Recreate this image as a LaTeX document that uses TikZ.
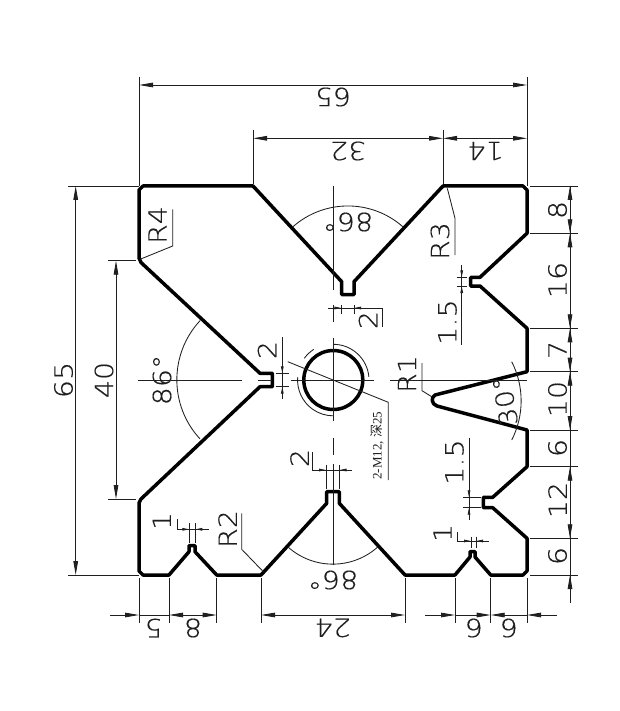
\documentclass[tikz,border=0pt]{standalone}
\usepackage{fontspec}
\usetikzlibrary{arrows.meta}
\newfontfamily\cadfont[FakeStretch=1.14,FakeBold=0.35]{DejaVu Sans ExtraLight}
\newfontfamily\labfont{Liberation Serif}
\newfontfamily\cjkfont{Noto Sans CJK SC}
\definecolor{ink}{gray}{0.12}
\tikzset{
  x=1pt,y=-1pt,
  outline/.style={line width=3.5pt,draw=black,line join=round},
  thinline/.style={line width=0.85pt,draw=ink},
  dimline/.style={thinline,>={Triangle[length=14pt,width=4.6pt]}},
  smalldim/.style={thinline,>={Triangle[length=7pt,width=2.6pt]}},
  lab/.style={font=\cadfont\fontsize{25}{25}\selectfont,text=ink,inner sep=0pt,anchor=center},
  labv/.style={lab,rotate=90},
  labd/.style={lab,rotate=180},
}
\begin{document}
\begin{tikzpicture}
\useasboundingbox (0,0) rectangle (619,711);
% outline
\draw[outline] (143,186) -- (253,186) -- (341.7,281.7) -- (341.7,294.5) -- (354,294.5) -- (354,281.7)
 -- (443,186) -- (523,186) -- (527,190) -- (527,233.3) -- (480,277.3) -- (470.7,277.3) -- (470.7,286) -- (480,286)
 -- (527,328.3) -- (527,371.7) -- (435,395) .. controls (431,397) and (431,404) .. (437,406) -- (527,430)
 -- (527,466.7) -- (492.7,497.3) -- (483.3,497.3) -- (483.3,507.7) -- (492.7,507.7) -- (527,538.3)
 -- (527,571) -- (523,575) -- (490.7,575) -- (475,557) -- (475,551.7) -- (470,551.7) -- (470,557) -- (455,575)
 -- (405,575) -- (339.3,503.3) -- (339.3,491.7) -- (326.7,491.7) -- (326.7,503.3) -- (261,575)
 -- (216.7,575) -- (195,551.7) -- (195,545.5) -- (189,545.5) -- (189,551.7) -- (169,575)
 -- (143,575) -- (139,571) -- (139,503) -- (141,499) -- (260,386.7) -- (272.3,386.7) -- (272.3,373.3) -- (260,373.3)
 -- (141,262.5) -- (139,258) -- (139,190) -- cycle;
\draw[line width=3.5pt] (333.3,380) circle[radius=29.5];
% thread arcs
\draw[thinline] (333.3,344.3) arc[start angle=-90,end angle=-5,radius=35.7];
\draw[thinline] (297.7,377) arc[start angle=185,end angle=90,radius=35.7];
\draw[thinline] (304.3,358.3) arc[start angle=-144,end angle=-123,radius=35.7];
% centre lines
\draw[thinline] (138,380) -- (241.7,380);
\draw[thinline] (258,380) -- (272,380);
\draw[thinline] (290.7,380) -- (374.3,380);
\draw[thinline] (390,380) -- (527,380);
\draw[thinline] (333,186) -- (333,290);
\draw[thinline] (333,305) -- (333,322);
\draw[thinline] (333,338) -- (333,421);
\draw[thinline] (333,438) -- (333,455);
\draw[thinline] (333,464) -- (333,565);
% angle arcs
\draw[thinline] (293,226.7) arc[start angle=228.6,end angle=311.4,radius=83];
\draw[thinline] (288,547) arc[start angle=131.8,end angle=48.2,radius=67.3];
\draw[thinline] (200,320.7) arc[start angle=222.8,end angle=137.2,radius=87];
\draw[thinline] (511.7,361.7) arc[start angle=-27.1,end angle=27.1,radius=86];
% top dims
\draw[thinline] (139,77) -- (139,186);
\draw[thinline] (527,77) -- (527,186);
\draw[thinline] (253,130) -- (253,184);
\draw[thinline] (443,130) -- (443,184);
\draw[dimline,<->] (139,85) -- (527,85);
\draw[dimline,<->] (253,138.3) -- (443,138.3);
\draw[dimline,<->] (443,138.3) -- (527,138.3);
\node[labd] (t65) at (333,97) {65};
\node[labd] (t32) at (348,151) {32};
\node[labd] (t14) at (485.5,151) {14};
% left dims
\draw[thinline] (68,186) -- (139,186);
\draw[thinline] (68,575) -- (139,575);
\draw[thinline] (108,260.7) -- (136,260.7);
\draw[thinline] (108,499) -- (136,499);
\draw[dimline,<->] (75.7,186) -- (75.7,575);
\draw[dimline,<->] (116,260.7) -- (116,499);
\node[labv] (l65) at (63.5,380) {65};
\node[labv] (l40) at (104,380) {40};
% right dims
\foreach \yy in {186,233.3,328.3,371.7,430,466.7,538.3,575}
  \draw[thinline] (530,\yy) -- (578,\yy);
\draw[thinline] (570,186) -- (570,603);
\draw[dimline,<->] (570,186) -- (570,233.3);
\draw[dimline,<->] (570,233.3) -- (570,328.3);
\draw[dimline,<->] (570,328.3) -- (570,371.7);
\draw[dimline,<->] (570,371.7) -- (570,430);
\draw[dimline,<->] (570,466.7) -- (570,538.3);
\draw[dimline,<-] (570,575) -- (570,603);
\node[labv] (r8) at (557.5,210) {8};
\node[labv] (r16) at (557.5,280) {16};
\node[labv] (r7) at (557.5,350) {7};
\node[labv] (r10) at (557.5,399) {10};
\node[labv] (r6a) at (557.5,448) {6};
\node[labv] (r12) at (557.5,500) {12};
\node[labv] (r6b) at (557.5,556) {6};
% bottom dims
\foreach \xx in {139,169,216.7,261,405,455,490.7,527}
  \draw[thinline] (\xx,578) -- (\xx,622.5);
\draw[dimline,<-] (139,615) -- (110,615);
\draw[thinline] (139,615) -- (169,615);
\draw[dimline,<->] (169,615) -- (216.7,615);
\draw[dimline,<->] (261,615) -- (405,615);
\draw[dimline,<-] (455,615) -- (425,615);
\draw[dimline,->] (455,615) -- (490.7,615);
\draw[dimline,<-] (490.7,615) -- (527,615);
\draw[dimline,<-] (527,615) -- (557,615);
\node[labd] (b5) at (153.5,628) {5};
\node[labd] (b8) at (193,628) {8};
\node[labd] (b24) at (332.7,628) {24};
\node[labd] (b6a) at (474,628) {6};
\node[labd] (b6b) at (509,628) {6};
% 86 / 30 labels
\node[labd] (a86t) at (348,222) {86°};
\node[labd] (a86b) at (333,580) {86°};
\node[labv] (a86l) at (162,380) {86°};
\node[labv,rotate=10] (a30) at (505,401) {30°};
% small slot dims
\draw[thinline] (456.7,277.3) -- (467,277.3);
\draw[thinline] (456.7,286) -- (467,286);
\draw[thinline] (461.7,265) -- (461.7,345);
\draw[smalldim,->] (461.7,265) -- (461.7,277.3);
\draw[smalldim,<-] (461.7,286) -- (461.7,298);
\node[labv] (s15a) at (447.5,322) {1.5};
\draw[thinline] (463,497.3) -- (481,497.3);
\draw[thinline] (463,507.7) -- (481,507.7);
\draw[thinline] (469,438) -- (469,520);
\draw[smalldim,->] (469,485) -- (469,497.3);
\draw[smalldim,<-] (469,507.7) -- (469,520);
\node[labv] (s15b) at (454.5,462) {1.5};
\draw[thinline] (471,536.7) -- (471,548);
\draw[thinline] (476,536.7) -- (476,548);
\draw[thinline] (457.3,531.7) -- (457.3,541) -- (489.3,541);
\draw[smalldim,->] (462,541) -- (471,541);
\draw[smalldim,<-] (476,541) -- (485,541);
\node[labv] (s1a) at (442.5,533) {1};
\draw[thinline] (189.3,523.3) -- (189.3,543);
\draw[thinline] (195.3,523.3) -- (195.3,543);
\draw[thinline] (177.3,519.3) -- (177.3,529.3) -- (209.3,529.3);
\draw[smalldim,->] (180,529.3) -- (189.3,529.3);
\draw[smalldim,<-] (195.3,529.3) -- (205,529.3);
\node[labv] (s1b) at (161.7,521) {1};
\draw[thinline] (326,465) -- (326,489);
\draw[thinline] (339.5,465) -- (339.5,489);
\draw[thinline] (312.7,452.3) -- (312.7,470) -- (352.3,470);
\draw[smalldim,->] (316,470) -- (326,470);
\draw[smalldim,<-] (339.5,470) -- (349,470);
\node[labv] (s2b) at (299.5,458) {2};
\draw[thinline] (275.7,373.3) -- (289,373.3);
\draw[thinline] (275.7,386.7) -- (289,386.7);
\draw[thinline] (282.3,337.3) -- (282.3,399);
\draw[smalldim,->] (282.3,364) -- (282.3,373.3);
\draw[smalldim,<-] (282.3,386.7) -- (282.3,396);
\node[labv] (s2l) at (267,350) {2};
\draw[thinline] (341.4,305) -- (341.4,314);
\draw[thinline] (354,305) -- (354,314);
\draw[thinline] (328,308) -- (382.5,308) -- (382.5,326.7);
\draw[smalldim,->] (332,308) -- (341.4,308);
\draw[smalldim,<-] (354,308) -- (363,308);
\node[labv] (s2t) at (368,320) {2};
% leaders
\draw[thinline] (447.3,188.3) -- (455,218.3) -- (455,255);
\node[labv] (rr3) at (440,241) {R3};
\draw[thinline] (140,259.3) -- (172.7,246) -- (172.7,209.3);
\node[labv] (rr4) at (157.5,225) {R4};
\draw[thinline] (263.3,571.7) -- (241.7,549.3) -- (241.7,513.3);
\node[labv] (rr2) at (227.5,529) {R2};
\draw[thinline] (431.7,396.7) -- (422,390.7) -- (422,363);
\node[labv] (rr1) at (407,374) {R1};
\draw[thinline] (287.7,361.7) -- (388.3,402.3) -- (388.3,480);
\node[rotate=90,inner sep=0pt,text=ink,anchor=west] (hole) at (377.3,480) {\labfont\fontsize{13}{13}\selectfont 2-M12, {\cjkfont 深}25};
\end{tikzpicture}
\end{document}
